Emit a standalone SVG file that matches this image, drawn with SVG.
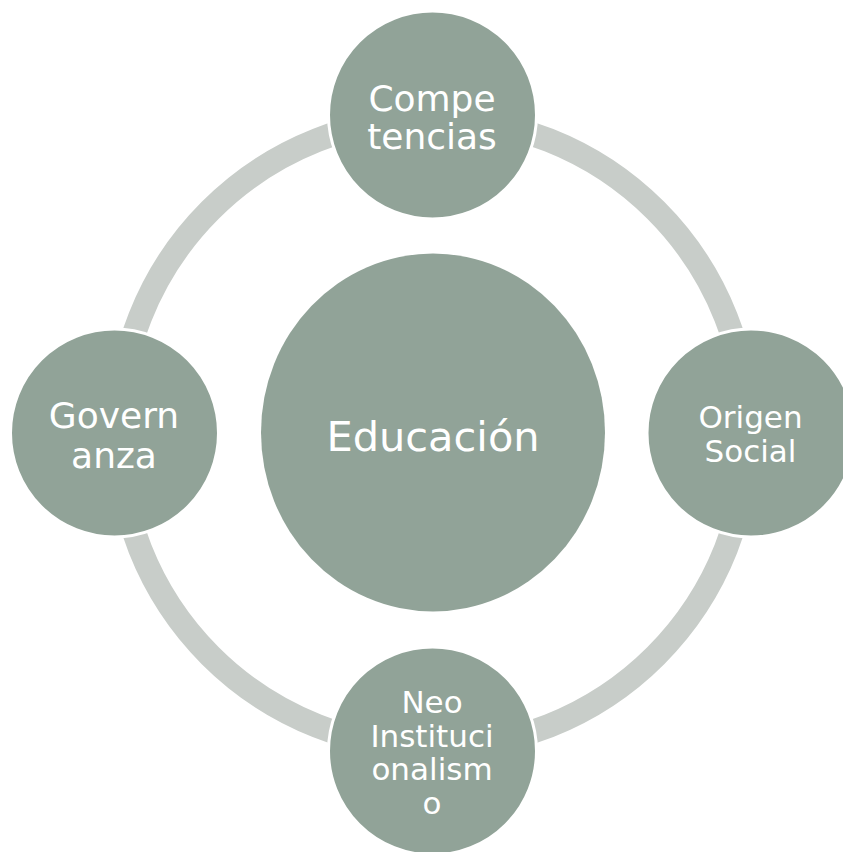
<svg xmlns="http://www.w3.org/2000/svg" width="843" height="852" viewBox="0 0 843 852">
<style>
.node{fill:#91a398;stroke:#ffffff;stroke-width:3}
.center{fill:#91a398;stroke:none}
.ring{fill:none;stroke:#c8cdc9;stroke-width:24}
text{font-family:"DejaVu Sans","Liberation Sans",sans-serif;fill:#ffffff;text-anchor:middle}
</style>
<rect width="843" height="852" fill="#ffffff"/>
<g id="connectors">
<circle class="ring" cx="433" cy="433" r="315"/>
</g>
<g id="educacion">
<ellipse class="center" cx="433" cy="432.5" rx="172" ry="179"/>
<text x="433" y="451" font-size="41.5">Educación</text>
</g>
<g id="competencias">
<circle class="node" cx="432.5" cy="115" r="104"/>
<text x="432" y="110.5" font-size="36">Compe</text>
<text x="432" y="148.5" font-size="36">tencias</text>
</g>
<g id="origen-social">
<circle class="node" cx="751" cy="433" r="104"/>
<text x="750.5" y="428" font-size="31">Origen</text>
<text x="750.5" y="461.5" font-size="31">Social</text>
</g>
<g id="neo-institucionalismo">
<circle class="node" cx="432.5" cy="751" r="104"/>
<text x="432" y="712.5" font-size="31">Neo</text>
<text x="432" y="746.5" font-size="31">Instituci</text>
<text x="432" y="780" font-size="31">onalism</text>
<text x="432" y="813.5" font-size="31">o</text>
</g>
<g id="governanza">
<circle class="node" cx="114.5" cy="433" r="104"/>
<text x="114" y="428" font-size="36">Govern</text>
<text x="114" y="467.5" font-size="36">anza</text>
</g>
</svg>
